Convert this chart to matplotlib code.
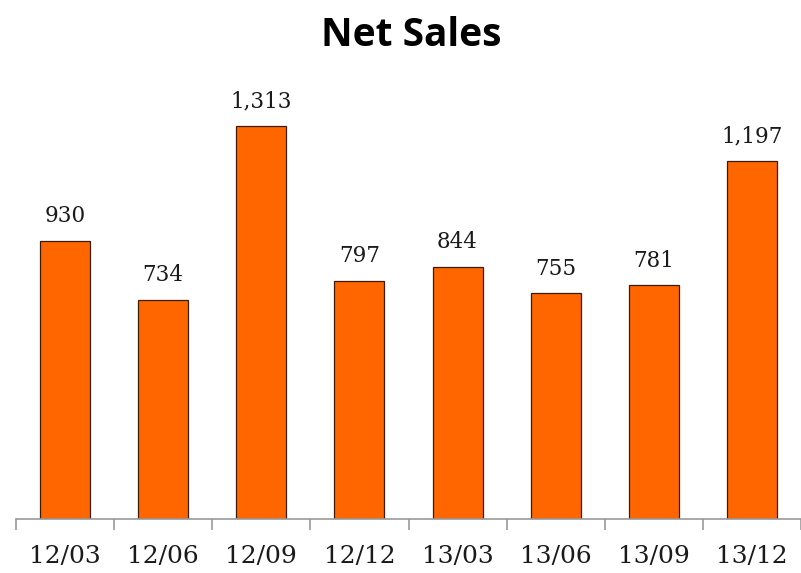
import matplotlib
matplotlib.use("Agg")
import matplotlib.pyplot as plt
import numpy as np

categories = ["12/03", "12/06", "12/09", "12/12", "13/03", "13/06", "13/09", "13/12"]
net_sales = [930, 734, 1313, 797, 844, 755, 781, 1197]

fig = plt.figure(figsize=(8.01, 5.73), dpi=100)
ax = fig.add_axes([16/801, 54/573, 1 - 16/801, (519-80)/573])
x = np.arange(len(categories))
ax.bar(x, net_sales, width=0.51, color="#FF6600", edgecolor="#3a1c08", linewidth=0.9, zorder=2)
ax.set_xlim(-0.5, len(categories) - 0.5)
ax.set_ylim(0, 1468)

for xi, v in zip(x, net_sales):
    ax.text(xi, v + 45, f"{v:,}", ha="center", va="bottom", family="DejaVu Serif",
            fontsize=15.5, color="#1a1a1a")

for s in ["top", "right", "left"]:
    ax.spines[s].set_visible(False)
ax.spines["bottom"].set_color("#999999")
ax.spines["bottom"].set_linewidth(1.2)
ax.set_yticks([])
ax.set_xticks(np.arange(-0.5, len(categories), 1))
ax.set_xticklabels([])
ax.set_xticks(x, minor=True)
ax.set_xticklabels(categories, minor=True, family="DejaVu Serif", fontsize=18, color="#1a1a1a")
ax.tick_params(axis="x", which="major", length=8, width=1.2, color="#999999", direction="out")
ax.tick_params(axis="x", which="minor", length=0, pad=19)

fig.text(411/801, 1 - 36/573, "Net Sales", ha="center", va="center", family="Open Sans",
         fontweight="bold", fontsize=28, color="black")

fig.savefig("out.png", dpi=100)
